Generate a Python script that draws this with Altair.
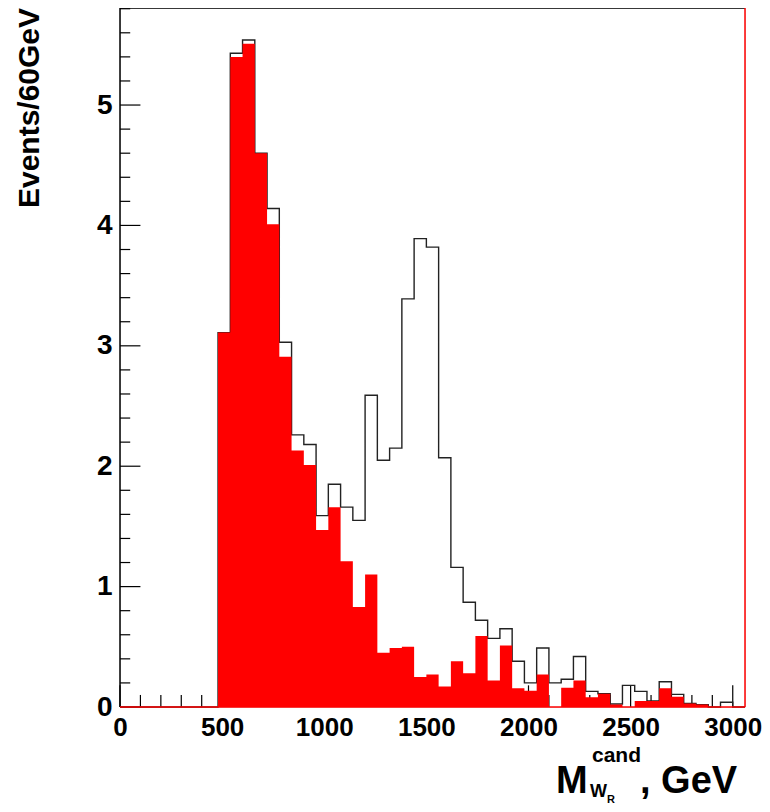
import altair as alt
import pandas as pd

# ---- data (bins of 60 GeV starting at 0) ----
bin_width = 60
x_max = 3060
y_max = 5.806

total = [0, 0, 0, 0, 0, 0, 0, 0,
         3.11, 5.43, 5.54, 4.60, 4.14, 3.03, 2.26, 2.18, 1.59, 1.85,
         1.66, 1.55, 2.59, 2.05, 2.15, 3.39, 3.89, 3.82, 2.07, 1.16,
         0.87, 0.72, 0.57, 0.65, 0.38, 0.20, 0.49, 0.20, 0.23, 0.42,
         0.13, 0.11, 0.025, 0.18, 0.13, 0.05, 0.21, 0.105, 0.03, 0.02,
         0.0, 0.04, 0.0]
signal_red = [0, 0, 0, 0, 0, 0, 0, 0,
              3.11, 5.40, 5.51, 4.60, 4.01, 2.91, 2.13, 2.01, 1.47, 1.66,
              1.21, 0.83, 1.10, 0.45, 0.49, 0.50, 0.25, 0.27, 0.17, 0.38,
              0.28, 0.59, 0.22, 0.51, 0.155, 0.135, 0.27, 0.0, 0.16, 0.22,
              0.08, 0.11, 0.02, 0.0, 0.05, 0.05, 0.155, 0.085, 0.03, 0.02,
              0.0, 0.0, 0.0]
x_tick_labels = [0, 500, 1000, 1500, 2000, 2500, 3000]
y_tick_labels = [0, 1, 2, 3, 4, 5]

n_bins = len(total)
edges = [i * bin_width for i in range(n_bins)] + [x_max]
hist = pd.DataFrame({"x": edges, "total": total + [0], "red": signal_red + [0]})

# inward ticks (ROOT style)
tick_rows = []
for xv in range(0, 3001, 100):
    ln = 0.18 if xv % 500 == 0 else 0.1
    tick_rows.append({"x": xv, "x2": xv, "y": 0, "y2": ln})
for k in range(0, 30):
    yv = round(k * 0.2, 2)
    ln = 100 if k % 5 == 0 else 50
    tick_rows.append({"x": 0, "x2": ln, "y": yv, "y2": yv})
ticks = pd.DataFrame(tick_rows)

frame = pd.DataFrame({
    "x": [0, 0, x_max, 0],
    "x2": [x_max, 0, x_max, x_max],
    "y": [y_max, 0, 0, 0],
    "y2": [y_max, y_max, y_max, 0],
    "c": ["#000000", "#000000", "#ff0000", "#ff0000"],
})

FONT = "Liberation Sans"
xs = alt.Scale(domain=[0, x_max], nice=False, zero=False)
ys = alt.Scale(domain=[0, y_max], nice=False, zero=False)

x_axis = alt.Axis(values=x_tick_labels, format="d", ticks=False, domain=False, grid=False,
                  labelFont=FONT, labelFontSize=26, labelFontWeight="bold", labelColor="black",
                  labelPadding=7, labelFlush=False, labelOverlap=False, title=None)
y_axis = alt.Axis(values=y_tick_labels, format="d", ticks=False, domain=False, grid=False,
                  labelFont=FONT, labelFontSize=28, labelFontWeight="bold", labelColor="black",
                  labelPadding=8, labelFlush=False, labelOverlap=False, title=None)

tick_layer = alt.Chart(ticks).mark_rule(color="black", strokeWidth=1.2).encode(
    x=alt.X("x:Q", scale=xs, axis=x_axis), x2="x2:Q",
    y=alt.Y("y:Q", scale=ys, axis=y_axis), y2="y2:Q")

black_layer = alt.Chart(hist).mark_line(interpolate="step-after", color="#222222", strokeWidth=1.4).encode(
    x=alt.X("x:Q", scale=xs, axis=x_axis),
    y=alt.Y("total:Q", scale=ys, axis=y_axis))

red_layer = alt.Chart(hist).mark_area(interpolate="step-after", color="#ff0000", opacity=1).encode(
    x=alt.X("x:Q", scale=xs, axis=x_axis),
    y=alt.Y("red:Q", scale=ys, axis=y_axis))

frame_layer = alt.Chart(frame).mark_rule(strokeWidth=1.5).encode(
    x=alt.X("x:Q", scale=xs, axis=x_axis), x2="x2:Q",
    y=alt.Y("y:Q", scale=ys, axis=y_axis), y2="y2:Q",
    color=alt.Color("c:N", scale=None))


def txt(label, px, py, size, angle=0, align="left", baseline="alphabetic"):
    return alt.Chart(pd.DataFrame({"t": [label]})).mark_text(
        font=FONT, fontWeight="bold", fontSize=size, color="black",
        align=align, baseline=baseline, angle=angle).encode(
        text="t:N", x=alt.value(px), y=alt.value(py))


texts = [
    txt("Events/60GeV", -90, 100, 30, angle=270, align="center", baseline="middle"),
    txt("M", 436, 785, 38),
    txt("cand", 472, 754, 21),
    txt("W", 470, 789, 18),
    txt("R", 487, 795, 11),
    txt(", GeV", 520, 785, 38),
]

chart = alt.layer(tick_layer, black_layer, red_layer, frame_layer, *texts).properties(
    width=625, height=699,
    autosize=alt.AutoSizeParams(type="none"),
    padding={"left": 112, "top": 0, "right": 17, "bottom": 97},
).configure_view(stroke=None).configure(background="white")

chart.save("out.html", embed_options={"renderer": "svg", "actions": False})
